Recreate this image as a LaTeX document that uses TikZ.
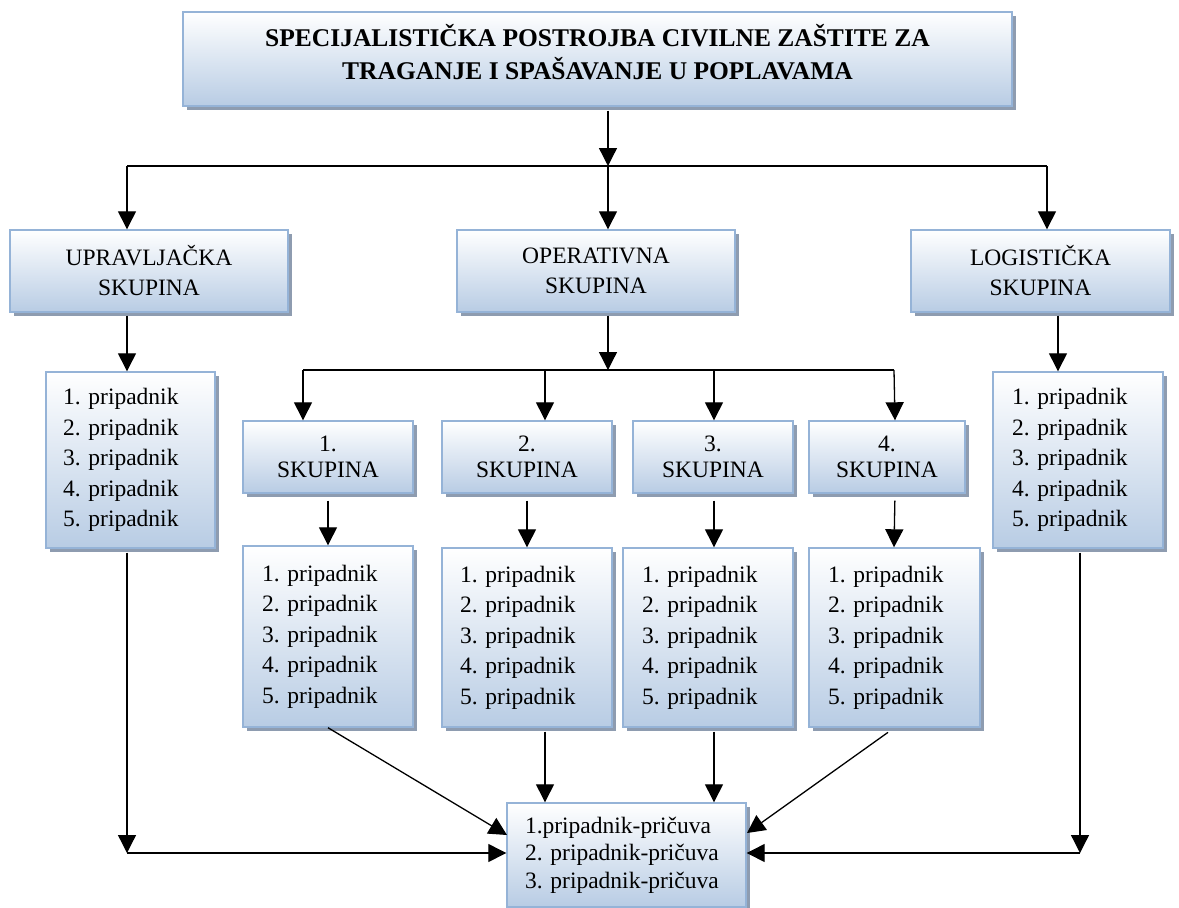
\documentclass[tikz,border=0pt]{standalone}
\usepackage{fontspec}
\setmainfont{Liberation Serif}
\usetikzlibrary{arrows.meta,shadows}
\definecolor{bordc}{HTML}{95B3D7}
\definecolor{boxbot}{HTML}{B8CCE4}
\definecolor{shadc}{HTML}{8E9CB0}
\frenchspacing
\begin{document}
\begin{tikzpicture}[x=1pt,y=-1pt,
  box/.style={draw=bordc, line width=1.4pt, top color=white, bottom color=boxbot,
    drop shadow={shadow xshift=4pt, shadow yshift=-4pt, fill=shadc, opacity=1},
    inner sep=0pt, align=center, font=\fontsize{23.5}{30}\selectfont},
  grp/.style={box, font=\fontsize{23.5}{26}\selectfont},
  lst/.style={box, align=left, font=\fontsize{23.5}{30.5}\selectfont},
  arr/.style={-{Triangle[width=18pt,length=18pt]}, line width=1.3pt},
  ln/.style={line width=1.3pt}]
\useasboundingbox (0,0) rectangle (1179,908);

% top
\node[box, font=\bfseries\fontsize{25.5}{33}\selectfont, minimum width=829pt, minimum height=94pt, text depth=14pt] (top) at (597.5,59)
  {SPECIJALISTIČKA POSTROJBA CIVILNE ZAŠTITE ZA\\TRAGANJE I SPAŠAVANJE U POPLAVAMA};

% second level
\node[box, minimum width=278pt, minimum height=82pt] (U) at (149,271) {UPRAVLJAČKA\\SKUPINA};
\node[box, minimum width=278pt, minimum height=82pt] (O) at (596,271) {OPERATIVNA\\SKUPINA};
\node[box, minimum width=259pt, minimum height=82pt] (L) at (1040.5,271) {LOGISTIČKA\\SKUPINA};

% side lists
\node[lst, minimum width=169pt, minimum height=176pt, text width=135pt, inner xsep=17pt] (LL) at (130.5,460)
  {1. pripadnik\\2. pripadnik\\3. pripadnik\\4. pripadnik\\5. pripadnik};
\node[lst, minimum width=170pt, minimum height=176pt, text width=132pt, inner xsep=19pt] (RL) at (1078,460)
  {1. pripadnik\\2. pripadnik\\3. pripadnik\\4. pripadnik\\5. pripadnik};

% groups
\node[grp, minimum width=170pt, minimum height=72pt] (S1) at (328,457) {1.\\SKUPINA};
\node[grp, minimum width=170pt, minimum height=72pt] (S2) at (527,457) {2.\\SKUPINA};
\node[grp, minimum width=160pt, minimum height=72pt] (S3) at (713,457) {3.\\SKUPINA};
\node[grp, minimum width=156pt, minimum height=72pt] (S4) at (887,457) {4.\\SKUPINA};

% group lists
\node[lst, minimum width=170pt, minimum height=181pt, text width=132pt, inner xsep=19pt] (P1) at (328,636.5)
  {1. pripadnik\\2. pripadnik\\3. pripadnik\\4. pripadnik\\5. pripadnik};
\node[lst, minimum width=170pt, minimum height=179pt, text width=134pt, inner xsep=18pt] (P2) at (527,637.5)
  {1. pripadnik\\2. pripadnik\\3. pripadnik\\4. pripadnik\\5. pripadnik};
\node[lst, minimum width=170pt, minimum height=179pt, text width=132pt, inner xsep=19pt] (P3) at (708,637.5)
  {1. pripadnik\\2. pripadnik\\3. pripadnik\\4. pripadnik\\5. pripadnik};
\node[lst, minimum width=171pt, minimum height=179pt, text width=133pt, inner xsep=19pt] (P4) at (894.5,637.5)
  {1. pripadnik\\2. pripadnik\\3. pripadnik\\4. pripadnik\\5. pripadnik};

% reserve
\node[lst, font=\fontsize{23.5}{27.5}\selectfont, minimum width=239pt, minimum height=104pt, text width=203pt, inner xsep=18pt] (R) at (626.5,855)
  {1.pripadnik-pričuva\\2. pripadnik-pričuva\\3. pripadnik-pričuva};

% coordinates
\coordinate (t1) at (608,166);
\coordinate (bus1L) at (127,166);
\coordinate (bus1R) at (1047,166);
\coordinate (xr) at (1058,0);
\coordinate (b2o) at (608,370);
\coordinate (b2a) at (303,370);
\coordinate (b2b) at (545,370);
\coordinate (b2c) at (714,370);
\coordinate (b2d) at (894,370);
\coordinate (xs4) at (895,0);
\coordinate (r1) at (507,835);
\coordinate (r4) at (747,833);
\coordinate (c1) at (127,853);
\coordinate (c2) at (1080,853);

% level 1 connectors
\draw[arr, shorten <=4pt] (top.south -| t1) -- (t1);
\draw[ln] (bus1L) -- (bus1R);
\draw[arr] (bus1L) -- (bus1L |- U.north);
\draw[arr] (t1) -- (t1 |- O.north);
\draw[arr] (bus1R) -- (bus1R |- L.north);

% level 2 connectors
\draw[arr, shorten <=3pt] (U.south -| bus1L) -- (bus1L |- LL.north);
\draw[arr, shorten <=3pt] (L.south -| xr) -- (xr |- RL.north);
\draw[arr, shorten <=3pt] (O.south -| b2o) -- (b2o);
\draw[ln] (b2a) -- (b2d);
\draw[arr] (b2a) -- (b2a |- S1.north);
\draw[arr] (b2b) -- (b2b |- S2.north);
\draw[arr] (b2c) -- (b2c |- S3.north);
\draw[arr] (b2d) -- ([xshift=1pt]b2d |- S4.north);

% groups to lists
\draw[arr, shorten <=7pt] (S1.south) -- (S1.south |- P1.north);
\draw[arr, shorten <=7pt] (S2.south) -- (S2.south |- P2.north);
\draw[arr, shorten <=7pt] (S3.south -| b2c) -- (b2c |- P3.north);
\draw[arr, shorten <=7pt] (S4.south -| xs4) -- ([xshift=-1pt]xs4 |- P4.north);

% to reserve
\draw[arr] (P1.south) -- (r1);
\draw[arr, shorten <=4pt] (P2.south -| b2b) -- (b2b |- R.north);
\draw[arr, shorten <=4pt] (P3.south -| b2c) -- (b2c |- R.north);
\draw[arr, shorten <=8pt] (P4.south) -- (r4);
\draw[arr, shorten <=4pt] (LL.south -| c1) -- (c1);
\draw[arr] (c1) -- (c1 -| R.west);
\draw[arr, shorten <=4pt] (RL.south -| c2) -- (c2);
\draw[arr] (c2) -- (c2 -| R.east);
\end{tikzpicture}
\end{document}
